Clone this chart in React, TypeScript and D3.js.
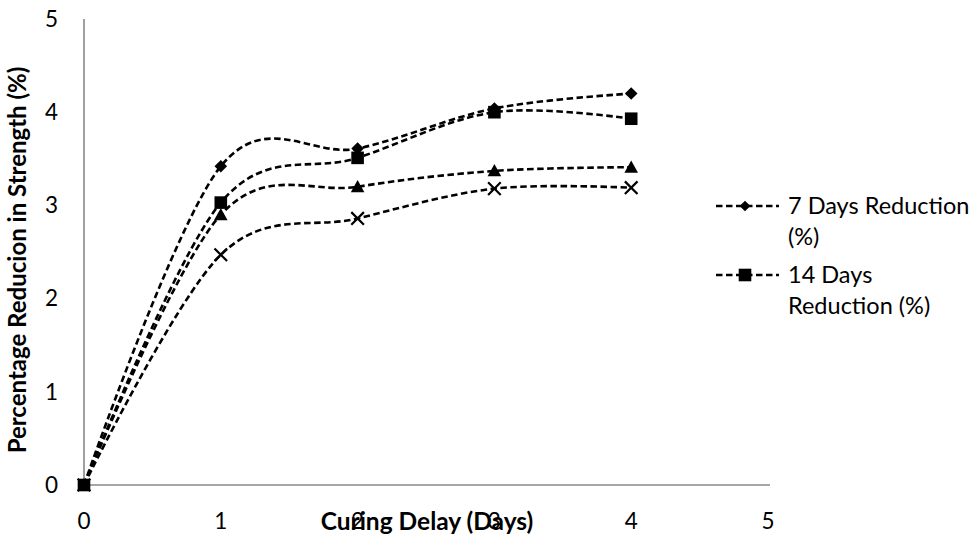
import React from "react";
import * as d3 from "d3";

const xValues = [0, 1, 2, 3, 4];
const seriesNames = ["7 Days Reduction (%)", "14 Days Reduction (%)", "28 Days Reduction (%)", "56 Days Reduction (%)"];
const s7 = [0, 3.42, 3.61, 4.04, 4.2];
const s14 = [0, 3.03, 3.51, 4.0, 3.93];
const s28 = [0, 2.9, 3.2, 3.37, 3.41];
const s56 = [0, 2.47, 2.86, 3.18, 3.19];
const markers = ["diamond", "square", "triangle", "x"];
const xTicks = [0, 1, 2, 3, 4, 5];
const yTicks = [0, 1, 2, 3, 4, 5];
const legendLines = [["7 Days Reduction", "(%)"], ["14 Days", "Reduction (%)"]];

const W = 975, H = 536;
const FONT = "Lato, 'Open Sans', sans-serif";

function Marker({ type, x, y, scale = 1 }: { type: string; x: number; y: number; scale?: number }) {
  const s = scale;
  if (type === "diamond") {
    const r = 6.3 * s;
    return <path d={`M${x},${y - r}L${x + r},${y}L${x},${y + r}L${x - r},${y}Z`} fill="#000" />;
  }
  if (type === "square") {
    const r = 6.3 * s;
    return <rect x={x - r} y={y - r} width={2 * r} height={2 * r} fill="#000" />;
  }
  if (type === "triangle") {
    const r = 6.8 * s;
    return <path d={`M${x},${y - r}L${x + r},${y + r * 0.8}L${x - r},${y + r * 0.8}Z`} fill="#000" />;
  }
  const r = 6.3 * s;
  return (
    <path d={`M${x - r},${y - r}L${x + r},${y + r}M${x - r},${y + r}L${x + r},${y - r}`} stroke="#000" strokeWidth={2.2} fill="none" />
  );
}

export default function App() {
  const x = d3.scaleLinear().domain([0, 5]).range([84, 768]);
  const y = d3.scaleLinear().domain([0, 5]).range([485, 19]);
  const series = [s7, s14, s28, s56];
  const line = d3
    .line<number>()
    .x((_, i) => x(xValues[i]))
    .y((d) => y(d))
    .curve(d3.curveCardinal.tension(0));

  return (
    <svg width={W} height={H} style={{ position: "absolute", left: 0, top: 0, background: "#fff" }} fontFamily={FONT}>
      <rect width={W} height={H} fill="#fff" />
      {/* axes */}
      <line x1={x(0)} x2={x(0)} y1={y(5)} y2={y(0)} stroke="#888" strokeWidth={1.6} />
      <line x1={x(0)} x2={x(5) + 2} y1={y(0)} y2={y(0)} stroke="#888" strokeWidth={1.6} />
      {/* y ticks */}
      {yTicks.map((t) => (
        <text key={"y" + t} x={58} y={y(t)} dy="0.35em" textAnchor="end" fontSize={22.5} fill="#000">
          {t}
        </text>
      ))}
      {/* x ticks */}
      {xTicks.map((t) => (
        <text key={"x" + t} x={x(t)} y={521} dy="0.35em" textAnchor="middle" fontSize={22.5} fill="#000">
          {t}
        </text>
      ))}
      {/* axis titles */}
      <text x={427} y={521} dy="0.35em" textAnchor="middle" fontSize={24.5} fontWeight="bold" fill="#000">
        Curing Delay (Days)
      </text>
      <text
        transform={`translate(18,${260}) rotate(-90)`}
        dy="0.35em"
        textAnchor="middle"
        fontSize={24}
        fontWeight="bold"
        fill="#000"
      >
        Percentage Reducion in Strength (%)
      </text>
      {/* lines */}
      {series.map((s, k) => (
        <path key={"l" + k} d={line(s) || ""} fill="none" stroke="#000" strokeWidth={2.6} strokeDasharray="6.5,3.5" />
      ))}
      {/* markers */}
      {series.map((s, k) =>
        s.map((v, i) => <Marker key={`m${k}-${i}`} type={markers[k]} x={x(xValues[i])} y={y(v)} />)
      )}
      {/* legend */}
      {legendLines.map((lines, k) => {
        const ly = k === 0 ? 206 : 275;
        return (
          <g key={"lg" + k}>
            <line x1={716} x2={779} y1={ly} y2={ly} stroke="#000" strokeWidth={2.6} strokeDasharray="6.5,3.5" />
            <Marker type={markers[k]} x={745} y={ly} scale={k === 0 ? 0.85 : 1} />
            {lines.map((t, j) => (
              <text key={j} x={788} y={ly + j * 31} dy="0.35em" fontSize={23.5} fill="#000">
                {t}
              </text>
            ))}
          </g>
        );
      })}
    </svg>
  );
}
